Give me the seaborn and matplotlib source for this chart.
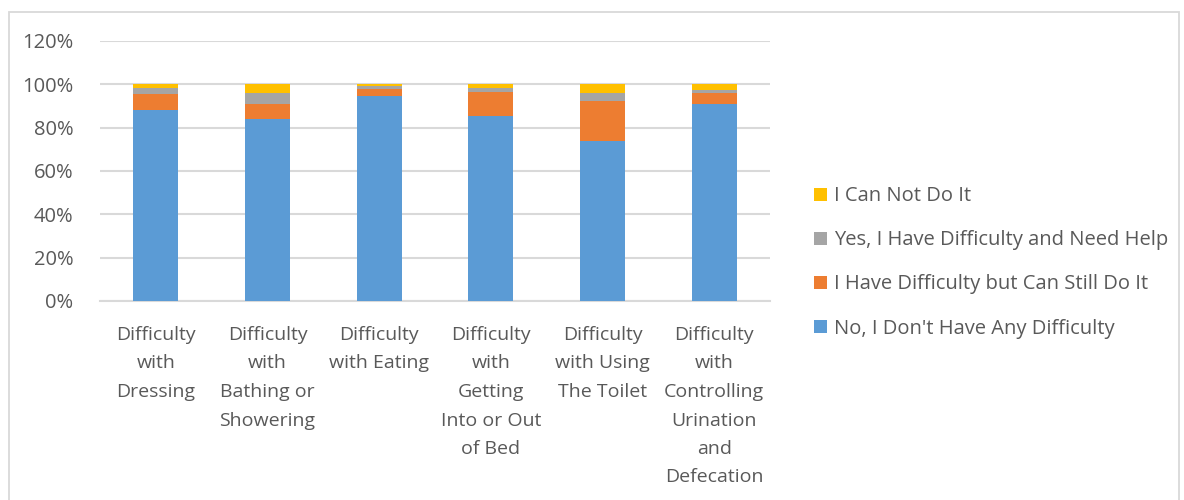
import matplotlib
matplotlib.use("Agg")
import matplotlib.pyplot as plt
from matplotlib.patches import Rectangle, Patch
from matplotlib.ticker import FuncFormatter
import numpy as np
import pandas as pd
import seaborn as sns

categories = [
    "Difficulty\nwith\nDressing",
    "Difficulty\nwith\nBathing or\nShowering",
    "Difficulty\nwith Eating",
    "Difficulty\nwith\nGetting\nInto or Out\nof Bed",
    "Difficulty\nwith Using\nThe Toilet",
    "Difficulty\nwith\nControlling\nUrination\nand\nDefecation",
]
no_difficulty = [88.0, 84.0, 94.5, 85.6, 73.9, 90.8]
difficulty_can_do = [7.5, 7.0, 3.3, 11.0, 18.6, 5.4]
need_help = [3.0, 5.0, 1.4, 1.8, 3.7, 1.2]
cannot_do = [1.5, 4.0, 0.8, 1.6, 3.8, 2.6]

series_names = [
    "No, I Don't Have Any Difficulty",
    "I Have Difficulty but Can Still Do It",
    "Yes, I Have Difficulty and Need Help",
    "I Can Not Do It",
]
series_values = [no_difficulty, difficulty_can_do, need_help, cannot_do]
series_colors = ["#5B9BD5", "#ED7D31", "#A5A5A5", "#FFC000"]

sns.set_style("white")
plt.rcParams["font.family"] = ["Open Sans", "DejaVu Sans"]
text_color = "#595959"
grid_color = "#D9D9D9"

W, H = 1184, 500
fig = plt.figure(figsize=(W / 100, H / 100), dpi=100)
ax = fig.add_axes([100 / W, 1 - 301 / H, 670 / W, 260 / H])

df = pd.DataFrame({"category": categories})
cum = np.zeros(len(categories))
cum_layers = []
for vals in series_values:
    cum = cum + np.array(vals)
    cum_layers.append(cum.copy())

# Stacked bars: draw cumulative totals from the tallest layer down
for name, color, top in reversed(list(zip(series_names, series_colors, cum_layers))):
    d = df.assign(value=top)
    sns.barplot(data=d, x="category", y="value", color=color, width=0.4,
                saturation=1, ax=ax, zorder=3, linewidth=0)

ax.set_ylim(0, 120)
ax.set_yticks(np.arange(0, 121, 20))
ax.yaxis.set_major_formatter(FuncFormatter(lambda v, p: f"{int(v)}%"))
ax.set_xlim(-0.5, len(categories) - 0.5)
ax.grid(axis="y", color=grid_color, linewidth=1.5, zorder=0)
ax.set_axisbelow(True)
for s in ["top", "right", "left"]:
    ax.spines[s].set_visible(False)
ax.spines["bottom"].set_color(grid_color)
ax.spines["bottom"].set_linewidth(1.5)
ax.set_xlabel("")
ax.set_ylabel("")
ax.tick_params(axis="both", length=0, colors=text_color)
ax.tick_params(axis="y", pad=19, labelsize=14.5)
ax.tick_params(axis="x", pad=18, labelsize=14)
for lbl in ax.get_xticklabels():
    lbl.set_linespacing(1.75)
    lbl.set_horizontalalignment("center")

handles = [Patch(facecolor=c, edgecolor="none") for c in reversed(series_colors)]
fig.legend(handles, list(reversed(series_names)), loc="upper left",
           bbox_to_anchor=(796 / W, 1 - 168 / H), frameon=False,
           fontsize=14.5, labelcolor=text_color, handlelength=0.62,
           handleheight=0.62, handletextpad=0.35, labelspacing=1.2)

fig.patches.append(Rectangle((9 / W, -0.05), 1170 / W, 1 - 12 / H + 0.05,
                             transform=fig.transFigure, fill=False,
                             edgecolor=grid_color, linewidth=1.3))

fig.savefig("out.png", dpi=100, facecolor="white")
